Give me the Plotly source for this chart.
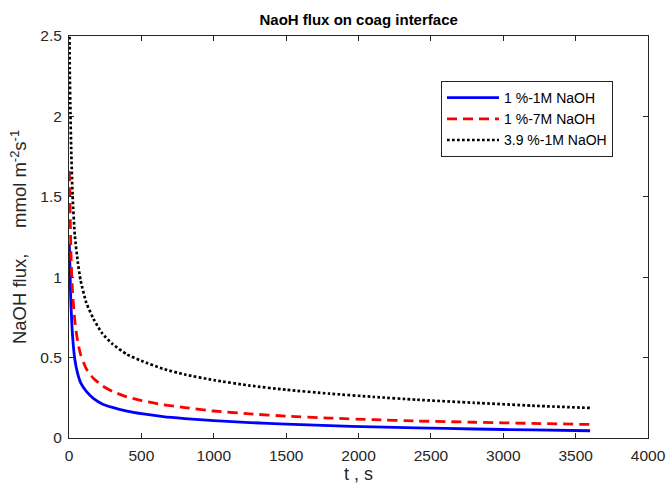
import plotly.graph_objects as go

# time, s
t = [2, 5, 10, 15, 25, 40, 60, 80, 120, 170, 230, 300, 400, 500, 650, 800,
     1000, 1250, 1500, 1800, 2100, 2400, 2800, 3200, 3600]

flux_1pct_1M = [1.21, 1.12, 0.93, 0.80, 0.63, 0.49, 0.40, 0.345, 0.29, 0.245, 0.212, 0.190,
                0.167, 0.151, 0.133, 0.121, 0.108, 0.096, 0.086, 0.077, 0.069, 0.063,
                0.056, 0.050, 0.045]
flux_1pct_7M = [1.66, 1.55, 1.30, 1.10, 0.90, 0.73, 0.60, 0.52, 0.43, 0.37, 0.325, 0.290,
                0.256, 0.233, 0.207, 0.189, 0.168, 0.150, 0.136, 0.124, 0.114, 0.106,
                0.098, 0.091, 0.084]
flux_39pct_1M = [2.9, 2.3, 2.02, 1.80, 1.50, 1.26, 1.10, 0.98, 0.84, 0.74, 0.65, 0.585,
                 0.52, 0.48, 0.43, 0.395, 0.36, 0.326, 0.300, 0.276, 0.256, 0.238,
                 0.219, 0.201, 0.187]

names = ["1 %-1M NaOH", "1 %-7M NaOH", "3.9 %-1M NaOH"]

x_ticks = [0, 500, 1000, 1500, 2000, 2500, 3000, 3500, 4000]
y_ticks = [0, 0.5, 1, 1.5, 2, 2.5]
y_tick_text = ["0", "0.5", "1", "1.5", "2", "2.5"]

font = "Liberation Sans, Arial, sans-serif"
axc = "#262626"
nb = "\u00a0"

fig = go.Figure()
fig.add_trace(go.Scatter(x=t, y=flux_1pct_1M, name=names[0], mode="lines",
                         line=dict(color="#0000ff", width=2.8, shape="spline", smoothing=0.5)))
fig.add_trace(go.Scatter(x=t, y=flux_1pct_7M, name=names[1], mode="lines",
                         line=dict(color="#ff0000", width=2.8, dash="10px,6px",
                                   shape="spline", smoothing=0.5)))
fig.add_trace(go.Scatter(x=t, y=flux_39pct_1M, name=names[2], mode="lines",
                         line=dict(color="#000000", width=2.7, dash="2.7px,2.3px",
                                   shape="spline", smoothing=0.5)))

fig.update_layout(
    width=666, height=489,
    margin=dict(l=69, r=18, t=36, b=51),
    paper_bgcolor="white", plot_bgcolor="white",
    font=dict(family=font, color=axc, size=15),
    title=dict(text="<b>NaoH flux on coag interface</b>", x=0.5385, xanchor="center",
               y=0.960, yanchor="middle", font=dict(size=15, color="#000000")),
    showlegend=True,
    legend=dict(x=0.6425, y=0.888, xanchor="left", yanchor="top",
                bgcolor="white", bordercolor=axc, borderwidth=1,
                font=dict(size=14, color="#000000"), itemwidth=52,
                tracegroupgap=0),
)
fig.update_xaxes(range=[0, 4000], tickvals=x_ticks, ticks="inside", ticklen=5,
                 showline=True, linecolor=axc, linewidth=1, mirror="ticks",
                 tickcolor=axc, showgrid=False, zeroline=False,
                 tickfont=dict(size=15.5, color=axc), ticklabelstandoff=3,
                 automargin=False,
                 title=dict(text="t" + nb + "," + nb + "s", font=dict(size=18, color=axc),
                            standoff=4))
fig.update_yaxes(range=[0, 2.5], tickvals=y_ticks, ticktext=y_tick_text, ticks="inside",
                 ticklen=5, showline=True, linecolor=axc, linewidth=1, mirror="ticks",
                 tickcolor=axc, showgrid=False, zeroline=False,
                 tickfont=dict(size=15.5, color=axc), ticklabelstandoff=3,
                 automargin=False,
                 title=dict(text="NaOH flux," + nb * 5 + "mmol m<sup>-2</sup>s<sup>-1</sup>",
                            font=dict(size=18.5, color=axc), standoff=8))

fig.write_html("out.html")
